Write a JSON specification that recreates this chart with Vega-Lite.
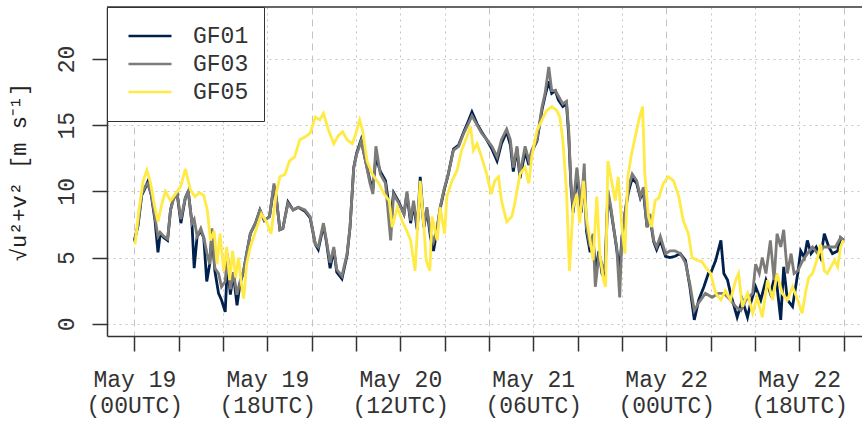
{
  "$schema": "https://vega.github.io/schema/vega-lite/v6.json",
  "width": 755,
  "height": 329,
  "autosize": {"type": "none"},
  "padding": {"left": 107, "top": 7, "right": 0, "bottom": 85},
  "background": "white",
  "config": {
    "view": {"stroke": null},
    "font": "Liberation Mono"
  },
  "datasets": {
    "series": [
      {"s":"GF01","t":0,"v":6.3},{"s":"GF01","t":0.5,"v":7.4},{"s":"GF01","t":1.0,"v":9.7},{"s":"GF01","t":1.5,"v":10.3},{"s":"GF01","t":1.8,"v":10.7},{"s":"GF01","t":2.3,"v":9.7},{"s":"GF01","t":2.8,"v":7.8},{"s":"GF01","t":3.2,"v":5.4},{"s":"GF01","t":3.5,"v":6.8},{"s":"GF01","t":4.0,"v":6.5},{"s":"GF01","t":4.5,"v":6.3},{"s":"GF01","t":4.9,"v":8.6},{"s":"GF01","t":5.3,"v":9.5},{"s":"GF01","t":5.8,"v":9.8},{"s":"GF01","t":6.3,"v":7.6},{"s":"GF01","t":6.9,"v":9.5},{"s":"GF01","t":7.3,"v":10.0},{"s":"GF01","t":7.8,"v":7.6},{"s":"GF01","t":8.1,"v":4.2},{"s":"GF01","t":8.5,"v":6.6},{"s":"GF01","t":9.0,"v":7.0},{"s":"GF01","t":9.4,"v":6.5},{"s":"GF01","t":9.8,"v":3.2},{"s":"GF01","t":10.2,"v":4.5},{"s":"GF01","t":10.5,"v":6.8},{"s":"GF01","t":10.9,"v":4.0},{"s":"GF01","t":11.4,"v":2.3},{"s":"GF01","t":11.8,"v":1.8},{"s":"GF01","t":12.3,"v":0.9},{"s":"GF01","t":12.6,"v":4.5},{"s":"GF01","t":13.0,"v":2.2},{"s":"GF01","t":13.4,"v":3.8},{"s":"GF01","t":13.9,"v":1.4},{"s":"GF01","t":14.3,"v":3.0},{"s":"GF01","t":14.8,"v":4.0},{"s":"GF01","t":15.2,"v":5.3},{"s":"GF01","t":15.7,"v":6.8},{"s":"GF01","t":16.4,"v":7.6},{"s":"GF01","t":17.0,"v":8.6},{"s":"GF01","t":17.6,"v":7.8},{"s":"GF01","t":18.3,"v":8.1},{"s":"GF01","t":18.9,"v":10.4},{"s":"GF01","t":19.2,"v":9.6},{"s":"GF01","t":19.7,"v":7.1},{"s":"GF01","t":20.1,"v":7.2},{"s":"GF01","t":20.8,"v":9.2},{"s":"GF01","t":21.5,"v":8.6},{"s":"GF01","t":22.2,"v":8.8},{"s":"GF01","t":23.1,"v":8.5},{"s":"GF01","t":23.8,"v":8.0},{"s":"GF01","t":24.5,"v":6.0},{"s":"GF01","t":24.9,"v":5.6},{"s":"GF01","t":25.6,"v":7.4},{"s":"GF01","t":26.0,"v":6.2},{"s":"GF01","t":26.5,"v":4.2},{"s":"GF01","t":27.0,"v":5.6},{"s":"GF01","t":27.4,"v":3.9},{"s":"GF01","t":28.1,"v":3.4},{"s":"GF01","t":28.8,"v":5.2},{"s":"GF01","t":29.2,"v":7.3},{"s":"GF01","t":29.7,"v":11.8},{"s":"GF01","t":30.1,"v":12.9},{"s":"GF01","t":30.7,"v":13.9},{"s":"GF01","t":31.3,"v":12.3},{"s":"GF01","t":31.9,"v":10.8},{"s":"GF01","t":32.3,"v":10.2},{"s":"GF01","t":32.7,"v":12.6},{"s":"GF01","t":33.3,"v":11.5},{"s":"GF01","t":34.0,"v":10.8},{"s":"GF01","t":34.7,"v":8.0},{"s":"GF01","t":35.1,"v":9.9},{"s":"GF01","t":35.8,"v":9.2},{"s":"GF01","t":36.5,"v":8.3},{"s":"GF01","t":36.9,"v":9.8},{"s":"GF01","t":37.4,"v":7.6},{"s":"GF01","t":37.8,"v":9.0},{"s":"GF01","t":38.3,"v":7.1},{"s":"GF01","t":38.7,"v":11.1},{"s":"GF01","t":39.2,"v":7.3},{"s":"GF01","t":39.6,"v":8.6},{"s":"GF01","t":40.1,"v":6.5},{"s":"GF01","t":40.5,"v":5.5},{"s":"GF01","t":41.0,"v":7.2},{"s":"GF01","t":41.4,"v":8.7},{"s":"GF01","t":41.9,"v":10.0},{"s":"GF01","t":42.5,"v":11.3},{"s":"GF01","t":43.2,"v":13.2},{"s":"GF01","t":43.9,"v":13.5},{"s":"GF01","t":44.6,"v":14.5},{"s":"GF01","t":45.2,"v":15.3},{"s":"GF01","t":45.7,"v":16.0},{"s":"GF01","t":46.4,"v":15.1},{"s":"GF01","t":47.0,"v":14.5},{"s":"GF01","t":47.7,"v":13.9},{"s":"GF01","t":48.4,"v":13.2},{"s":"GF01","t":49.1,"v":12.3},{"s":"GF01","t":49.7,"v":13.6},{"s":"GF01","t":50.4,"v":14.5},{"s":"GF01","t":50.9,"v":13.5},{"s":"GF01","t":51.3,"v":11.5},{"s":"GF01","t":51.8,"v":13.2},{"s":"GF01","t":52.2,"v":11.0},{"s":"GF01","t":52.9,"v":13.0},{"s":"GF01","t":53.4,"v":12.0},{"s":"GF01","t":53.8,"v":13.0},{"s":"GF01","t":54.5,"v":13.8},{"s":"GF01","t":55.2,"v":16.2},{"s":"GF01","t":55.6,"v":17.2},{"s":"GF01","t":56.1,"v":18.3},{"s":"GF01","t":56.5,"v":17.4},{"s":"GF01","t":57.0,"v":17.6},{"s":"GF01","t":57.4,"v":16.9},{"s":"GF01","t":58.0,"v":16.4},{"s":"GF01","t":58.5,"v":16.6},{"s":"GF01","t":58.8,"v":14.2},{"s":"GF01","t":59.1,"v":10.4},{"s":"GF01","t":59.4,"v":8.4},{"s":"GF01","t":59.9,"v":11.2},{"s":"GF01","t":60.2,"v":10.0},{"s":"GF01","t":60.5,"v":8.4},{"s":"GF01","t":60.9,"v":11.4},{"s":"GF01","t":61.2,"v":7.0},{"s":"GF01","t":61.7,"v":5.4},{"s":"GF01","t":62.1,"v":6.5},{"s":"GF01","t":62.4,"v":4.0},{"s":"GF01","t":62.9,"v":5.5},{"s":"GF01","t":63.3,"v":3.8},{"s":"GF01","t":63.7,"v":3.4},{"s":"GF01","t":64.1,"v":9.8},{"s":"GF01","t":64.5,"v":8.6},{"s":"GF01","t":65.0,"v":6.8},{"s":"GF01","t":65.3,"v":5.6},{"s":"GF01","t":65.7,"v":4.0},{"s":"GF01","t":66.0,"v":6.5},{"s":"GF01","t":66.4,"v":8.3},{"s":"GF01","t":66.9,"v":10.0},{"s":"GF01","t":67.4,"v":11.0},{"s":"GF01","t":68.0,"v":10.6},{"s":"GF01","t":68.5,"v":9.5},{"s":"GF01","t":68.9,"v":10.0},{"s":"GF01","t":69.4,"v":7.3},{"s":"GF01","t":69.8,"v":8.0},{"s":"GF01","t":70.3,"v":6.2},{"s":"GF01","t":70.7,"v":5.6},{"s":"GF01","t":71.2,"v":6.3},{"s":"GF01","t":71.9,"v":5.1},{"s":"GF01","t":72.5,"v":5.0},{"s":"GF01","t":73.2,"v":5.1},{"s":"GF01","t":73.9,"v":5.3},{"s":"GF01","t":74.6,"v":4.8},{"s":"GF01","t":75.2,"v":2.8},{"s":"GF01","t":75.8,"v":0.3},{"s":"GF01","t":76.4,"v":1.8},{"s":"GF01","t":77.1,"v":2.8},{"s":"GF01","t":77.7,"v":3.8},{"s":"GF01","t":78.0,"v":3.8},{"s":"GF01","t":78.7,"v":4.8},{"s":"GF01","t":79.4,"v":6.3},{"s":"GF01","t":79.8,"v":3.8},{"s":"GF01","t":80.3,"v":3.3},{"s":"GF01","t":80.7,"v":2.3},{"s":"GF01","t":81.2,"v":1.3},{"s":"GF01","t":81.6,"v":0.5},{"s":"GF01","t":82.3,"v":1.8},{"s":"GF01","t":83.0,"v":0.5},{"s":"GF01","t":83.4,"v":1.5},{"s":"GF01","t":84.1,"v":2.8},{"s":"GF01","t":84.8,"v":1.8},{"s":"GF01","t":85.5,"v":3.3},{"s":"GF01","t":86.1,"v":2.3},{"s":"GF01","t":86.8,"v":3.8},{"s":"GF01","t":87.5,"v":0.3},{"s":"GF01","t":87.9,"v":4.3},{"s":"GF01","t":88.4,"v":1.8},{"s":"GF01","t":89.1,"v":1.3},{"s":"GF01","t":89.8,"v":3.8},{"s":"GF01","t":90.2,"v":5.5},{"s":"GF01","t":90.7,"v":5.0},{"s":"GF01","t":91.1,"v":6.3},{"s":"GF01","t":91.6,"v":5.3},{"s":"GF01","t":92.3,"v":5.8},{"s":"GF01","t":92.9,"v":5.0},{"s":"GF01","t":93.4,"v":6.8},{"s":"GF01","t":94.0,"v":5.8},{"s":"GF01","t":94.5,"v":5.3},{"s":"GF01","t":95.2,"v":5.5},{"s":"GF01","t":95.6,"v":6.5},{"s":"GF01","t":96.0,"v":6.3},

      {"s":"GF03","t":0,"v":6.2},{"s":"GF03","t":0.5,"v":7.5},{"s":"GF03","t":1.0,"v":9.8},{"s":"GF03","t":1.5,"v":10.4},{"s":"GF03","t":1.8,"v":10.6},{"s":"GF03","t":2.3,"v":9.8},{"s":"GF03","t":2.8,"v":8.0},{"s":"GF03","t":3.2,"v":6.6},{"s":"GF03","t":3.5,"v":6.9},{"s":"GF03","t":4.0,"v":6.6},{"s":"GF03","t":4.5,"v":6.4},{"s":"GF03","t":4.9,"v":8.6},{"s":"GF03","t":5.3,"v":9.4},{"s":"GF03","t":5.8,"v":9.8},{"s":"GF03","t":6.3,"v":7.9},{"s":"GF03","t":6.9,"v":9.5},{"s":"GF03","t":7.3,"v":10.0},{"s":"GF03","t":7.8,"v":7.6},{"s":"GF03","t":8.1,"v":7.9},{"s":"GF03","t":8.5,"v":6.6},{"s":"GF03","t":9.0,"v":7.2},{"s":"GF03","t":9.4,"v":6.5},{"s":"GF03","t":9.8,"v":5.4},{"s":"GF03","t":10.2,"v":4.5},{"s":"GF03","t":10.5,"v":7.2},{"s":"GF03","t":10.9,"v":4.2},{"s":"GF03","t":11.4,"v":3.8},{"s":"GF03","t":11.8,"v":2.8},{"s":"GF03","t":12.3,"v":3.2},{"s":"GF03","t":12.6,"v":5.3},{"s":"GF03","t":13.0,"v":2.6},{"s":"GF03","t":13.4,"v":3.9},{"s":"GF03","t":13.9,"v":2.2},{"s":"GF03","t":14.3,"v":3.2},{"s":"GF03","t":14.8,"v":4.0},{"s":"GF03","t":15.2,"v":5.3},{"s":"GF03","t":15.7,"v":6.8},{"s":"GF03","t":16.4,"v":7.6},{"s":"GF03","t":17.0,"v":8.6},{"s":"GF03","t":17.6,"v":7.8},{"s":"GF03","t":18.3,"v":8.1},{"s":"GF03","t":18.9,"v":10.6},{"s":"GF03","t":19.2,"v":9.6},{"s":"GF03","t":19.7,"v":7.1},{"s":"GF03","t":20.1,"v":7.2},{"s":"GF03","t":20.8,"v":9.1},{"s":"GF03","t":21.5,"v":8.6},{"s":"GF03","t":22.2,"v":8.8},{"s":"GF03","t":23.1,"v":8.6},{"s":"GF03","t":23.8,"v":8.1},{"s":"GF03","t":24.5,"v":6.0},{"s":"GF03","t":24.9,"v":5.8},{"s":"GF03","t":25.6,"v":7.6},{"s":"GF03","t":26.0,"v":6.3},{"s":"GF03","t":26.5,"v":4.6},{"s":"GF03","t":27.0,"v":5.8},{"s":"GF03","t":27.4,"v":4.1},{"s":"GF03","t":28.1,"v":3.6},{"s":"GF03","t":28.8,"v":5.3},{"s":"GF03","t":29.2,"v":7.3},{"s":"GF03","t":29.7,"v":11.8},{"s":"GF03","t":30.1,"v":12.8},{"s":"GF03","t":30.7,"v":13.8},{"s":"GF03","t":31.3,"v":12.3},{"s":"GF03","t":31.9,"v":10.6},{"s":"GF03","t":32.3,"v":9.8},{"s":"GF03","t":32.7,"v":13.4},{"s":"GF03","t":33.3,"v":11.3},{"s":"GF03","t":34.0,"v":10.6},{"s":"GF03","t":34.7,"v":6.3},{"s":"GF03","t":35.1,"v":9.8},{"s":"GF03","t":35.8,"v":9.1},{"s":"GF03","t":36.5,"v":8.3},{"s":"GF03","t":36.9,"v":10.0},{"s":"GF03","t":37.4,"v":7.8},{"s":"GF03","t":37.8,"v":9.3},{"s":"GF03","t":38.3,"v":7.3},{"s":"GF03","t":38.7,"v":10.2},{"s":"GF03","t":39.2,"v":7.3},{"s":"GF03","t":39.6,"v":8.8},{"s":"GF03","t":40.1,"v":6.8},{"s":"GF03","t":40.5,"v":6.2},{"s":"GF03","t":41.0,"v":7.3},{"s":"GF03","t":41.4,"v":8.8},{"s":"GF03","t":41.9,"v":10.1},{"s":"GF03","t":42.5,"v":11.3},{"s":"GF03","t":43.2,"v":13.1},{"s":"GF03","t":43.9,"v":13.4},{"s":"GF03","t":44.6,"v":14.4},{"s":"GF03","t":45.2,"v":15.1},{"s":"GF03","t":45.7,"v":15.7},{"s":"GF03","t":46.4,"v":15.0},{"s":"GF03","t":47.0,"v":14.4},{"s":"GF03","t":47.7,"v":13.9},{"s":"GF03","t":48.4,"v":13.4},{"s":"GF03","t":49.1,"v":12.6},{"s":"GF03","t":49.7,"v":13.9},{"s":"GF03","t":50.4,"v":14.7},{"s":"GF03","t":50.9,"v":13.9},{"s":"GF03","t":51.3,"v":11.8},{"s":"GF03","t":51.8,"v":13.4},{"s":"GF03","t":52.2,"v":11.3},{"s":"GF03","t":52.9,"v":13.4},{"s":"GF03","t":53.4,"v":12.3},{"s":"GF03","t":53.8,"v":13.1},{"s":"GF03","t":54.5,"v":13.9},{"s":"GF03","t":55.2,"v":16.4},{"s":"GF03","t":55.6,"v":17.4},{"s":"GF03","t":56.1,"v":19.4},{"s":"GF03","t":56.5,"v":17.6},{"s":"GF03","t":57.0,"v":17.6},{"s":"GF03","t":57.4,"v":17.2},{"s":"GF03","t":58.0,"v":16.6},{"s":"GF03","t":58.5,"v":16.8},{"s":"GF03","t":58.8,"v":14.6},{"s":"GF03","t":59.1,"v":10.6},{"s":"GF03","t":59.4,"v":8.8},{"s":"GF03","t":59.9,"v":11.8},{"s":"GF03","t":60.2,"v":10.3},{"s":"GF03","t":60.5,"v":8.8},{"s":"GF03","t":60.9,"v":12.1},{"s":"GF03","t":61.2,"v":7.3},{"s":"GF03","t":61.7,"v":5.8},{"s":"GF03","t":62.1,"v":6.8},{"s":"GF03","t":62.4,"v":2.8},{"s":"GF03","t":62.9,"v":5.3},{"s":"GF03","t":63.3,"v":4.5},{"s":"GF03","t":63.7,"v":4.0},{"s":"GF03","t":64.1,"v":10.1},{"s":"GF03","t":64.5,"v":8.8},{"s":"GF03","t":65.0,"v":6.8},{"s":"GF03","t":65.3,"v":5.8},{"s":"GF03","t":65.7,"v":2.0},{"s":"GF03","t":66.0,"v":6.5},{"s":"GF03","t":66.4,"v":8.3},{"s":"GF03","t":66.9,"v":10.3},{"s":"GF03","t":67.4,"v":11.3},{"s":"GF03","t":68.0,"v":10.8},{"s":"GF03","t":68.5,"v":9.6},{"s":"GF03","t":68.9,"v":10.3},{"s":"GF03","t":69.4,"v":7.3},{"s":"GF03","t":69.8,"v":8.3},{"s":"GF03","t":70.3,"v":6.3},{"s":"GF03","t":70.7,"v":5.8},{"s":"GF03","t":71.2,"v":6.6},{"s":"GF03","t":71.9,"v":5.3},{"s":"GF03","t":72.5,"v":5.5},{"s":"GF03","t":73.2,"v":5.5},{"s":"GF03","t":73.9,"v":5.3},{"s":"GF03","t":74.6,"v":4.6},{"s":"GF03","t":75.2,"v":3.0},{"s":"GF03","t":75.8,"v":1.0},{"s":"GF03","t":76.4,"v":1.6},{"s":"GF03","t":77.3,"v":2.3},{"s":"GF03","t":78.2,"v":2.0},{"s":"GF03","t":79.1,"v":2.3},{"s":"GF03","t":79.8,"v":2.3},{"s":"GF03","t":80.7,"v":1.8},{"s":"GF03","t":81.4,"v":1.3},{"s":"GF03","t":82.1,"v":1.0},{"s":"GF03","t":82.8,"v":1.8},{"s":"GF03","t":83.7,"v":2.3},{"s":"GF03","t":84.1,"v":4.5},{"s":"GF03","t":84.6,"v":3.8},{"s":"GF03","t":85.0,"v":5.0},{"s":"GF03","t":85.5,"v":3.8},{"s":"GF03","t":86.1,"v":6.3},{"s":"GF03","t":86.6,"v":3.3},{"s":"GF03","t":87.0,"v":6.8},{"s":"GF03","t":87.5,"v":5.8},{"s":"GF03","t":87.9,"v":7.1},{"s":"GF03","t":88.4,"v":3.8},{"s":"GF03","t":88.9,"v":5.3},{"s":"GF03","t":89.3,"v":3.8},{"s":"GF03","t":89.8,"v":4.0},{"s":"GF03","t":90.5,"v":4.8},{"s":"GF03","t":91.1,"v":5.3},{"s":"GF03","t":91.8,"v":5.8},{"s":"GF03","t":92.5,"v":5.3},{"s":"GF03","t":93.1,"v":5.8},{"s":"GF03","t":94.0,"v":5.8},{"s":"GF03","t":94.9,"v":5.8},{"s":"GF03","t":95.6,"v":6.5},{"s":"GF03","t":96.0,"v":6.3},

      {"s":"GF05","t":0.1,"v":6.0},{"s":"GF05","t":0.6,"v":8.5},{"s":"GF05","t":1.2,"v":10.8},{"s":"GF05","t":1.7,"v":11.6},{"s":"GF05","t":2.2,"v":10.6},{"s":"GF05","t":2.7,"v":9.0},{"s":"GF05","t":3.2,"v":7.7},{"s":"GF05","t":3.7,"v":9.0},{"s":"GF05","t":4.2,"v":10.0},{"s":"GF05","t":4.9,"v":9.3},{"s":"GF05","t":5.3,"v":9.6},{"s":"GF05","t":5.8,"v":10.0},{"s":"GF05","t":6.3,"v":10.4},{"s":"GF05","t":6.9,"v":11.7},{"s":"GF05","t":7.6,"v":10.1},{"s":"GF05","t":8.2,"v":9.6},{"s":"GF05","t":8.8,"v":9.9},{"s":"GF05","t":9.4,"v":9.7},{"s":"GF05","t":9.9,"v":8.5},{"s":"GF05","t":10.3,"v":6.3},{"s":"GF05","t":10.8,"v":7.0},{"s":"GF05","t":11.2,"v":4.5},{"s":"GF05","t":11.6,"v":6.8},{"s":"GF05","t":12.1,"v":4.0},{"s":"GF05","t":12.5,"v":5.8},{"s":"GF05","t":12.9,"v":3.3},{"s":"GF05","t":13.3,"v":5.5},{"s":"GF05","t":13.7,"v":3.5},{"s":"GF05","t":14.1,"v":5.0},{"s":"GF05","t":14.5,"v":3.0},{"s":"GF05","t":14.8,"v":1.9},{"s":"GF05","t":15.2,"v":4.5},{"s":"GF05","t":15.7,"v":5.8},{"s":"GF05","t":16.3,"v":6.8},{"s":"GF05","t":17.2,"v":8.3},{"s":"GF05","t":17.9,"v":7.7},{"s":"GF05","t":18.5,"v":6.8},{"s":"GF05","t":19.2,"v":9.8},{"s":"GF05","t":19.7,"v":11.1},{"s":"GF05","t":20.4,"v":11.3},{"s":"GF05","t":21.0,"v":12.3},{"s":"GF05","t":21.7,"v":12.6},{"s":"GF05","t":22.4,"v":13.9},{"s":"GF05","t":23.1,"v":14.1},{"s":"GF05","t":23.8,"v":14.4},{"s":"GF05","t":24.5,"v":15.6},{"s":"GF05","t":25.1,"v":15.4},{"s":"GF05","t":25.6,"v":15.9},{"s":"GF05","t":26.3,"v":14.6},{"s":"GF05","t":27.0,"v":13.6},{"s":"GF05","t":27.6,"v":14.2},{"s":"GF05","t":28.2,"v":14.5},{"s":"GF05","t":28.8,"v":13.9},{"s":"GF05","t":29.5,"v":13.6},{"s":"GF05","t":29.9,"v":14.2},{"s":"GF05","t":30.5,"v":15.4},{"s":"GF05","t":30.9,"v":14.6},{"s":"GF05","t":31.5,"v":12.3},{"s":"GF05","t":32.2,"v":11.3},{"s":"GF05","t":33.1,"v":10.6},{"s":"GF05","t":33.8,"v":9.8},{"s":"GF05","t":34.5,"v":9.3},{"s":"GF05","t":34.9,"v":7.3},{"s":"GF05","t":35.6,"v":8.8},{"s":"GF05","t":36.3,"v":7.7},{"s":"GF05","t":36.9,"v":7.0},{"s":"GF05","t":37.4,"v":6.3},{"s":"GF05","t":38.0,"v":4.0},{"s":"GF05","t":38.7,"v":10.8},{"s":"GF05","t":39.2,"v":7.3},{"s":"GF05","t":39.5,"v":4.8},{"s":"GF05","t":40.0,"v":4.0},{"s":"GF05","t":40.3,"v":8.1},{"s":"GF05","t":41.0,"v":6.3},{"s":"GF05","t":41.4,"v":8.8},{"s":"GF05","t":42.0,"v":6.8},{"s":"GF05","t":42.3,"v":9.6},{"s":"GF05","t":43.0,"v":10.8},{"s":"GF05","t":43.7,"v":11.6},{"s":"GF05","t":44.3,"v":13.1},{"s":"GF05","t":45.0,"v":14.1},{"s":"GF05","t":45.5,"v":14.9},{"s":"GF05","t":45.9,"v":13.1},{"s":"GF05","t":46.4,"v":13.6},{"s":"GF05","t":47.0,"v":12.6},{"s":"GF05","t":47.7,"v":11.3},{"s":"GF05","t":48.3,"v":9.8},{"s":"GF05","t":48.8,"v":10.8},{"s":"GF05","t":49.3,"v":11.1},{"s":"GF05","t":49.7,"v":9.3},{"s":"GF05","t":50.4,"v":7.7},{"s":"GF05","t":51.1,"v":8.1},{"s":"GF05","t":51.5,"v":9.1},{"s":"GF05","t":52.2,"v":11.3},{"s":"GF05","t":52.9,"v":11.8},{"s":"GF05","t":53.4,"v":10.6},{"s":"GF05","t":53.8,"v":12.6},{"s":"GF05","t":54.5,"v":14.6},{"s":"GF05","t":55.2,"v":15.4},{"s":"GF05","t":55.8,"v":16.1},{"s":"GF05","t":56.5,"v":16.4},{"s":"GF05","t":57.2,"v":16.1},{"s":"GF05","t":57.6,"v":15.6},{"s":"GF05","t":58.0,"v":13.9},{"s":"GF05","t":58.5,"v":10.0},{"s":"GF05","t":58.9,"v":4.0},{"s":"GF05","t":59.4,"v":8.8},{"s":"GF05","t":59.9,"v":9.8},{"s":"GF05","t":60.3,"v":7.6},{"s":"GF05","t":60.8,"v":10.8},{"s":"GF05","t":61.2,"v":8.0},{"s":"GF05","t":61.7,"v":6.3},{"s":"GF05","t":62.1,"v":4.8},{"s":"GF05","t":62.6,"v":9.6},{"s":"GF05","t":63.0,"v":5.3},{"s":"GF05","t":63.5,"v":3.3},{"s":"GF05","t":63.8,"v":2.8},{"s":"GF05","t":64.1,"v":12.3},{"s":"GF05","t":64.6,"v":10.8},{"s":"GF05","t":65.1,"v":9.3},{"s":"GF05","t":65.5,"v":11.1},{"s":"GF05","t":66.0,"v":7.3},{"s":"GF05","t":66.4,"v":5.3},{"s":"GF05","t":66.8,"v":11.1},{"s":"GF05","t":67.3,"v":12.8},{"s":"GF05","t":67.8,"v":14.1},{"s":"GF05","t":68.3,"v":15.4},{"s":"GF05","t":68.8,"v":16.4},{"s":"GF05","t":69.1,"v":11.3},{"s":"GF05","t":69.6,"v":8.1},{"s":"GF05","t":70.0,"v":7.3},{"s":"GF05","t":70.5,"v":9.3},{"s":"GF05","t":71.0,"v":9.5},{"s":"GF05","t":71.6,"v":10.6},{"s":"GF05","t":72.3,"v":11.1},{"s":"GF05","t":73.0,"v":10.8},{"s":"GF05","t":73.7,"v":9.6},{"s":"GF05","t":74.3,"v":7.8},{"s":"GF05","t":75.0,"v":6.8},{"s":"GF05","t":75.5,"v":5.0},{"s":"GF05","t":76.2,"v":4.8},{"s":"GF05","t":76.8,"v":4.7},{"s":"GF05","t":77.3,"v":4.3},{"s":"GF05","t":78.0,"v":3.8},{"s":"GF05","t":78.7,"v":2.3},{"s":"GF05","t":79.4,"v":1.8},{"s":"GF05","t":80.0,"v":2.5},{"s":"GF05","t":80.7,"v":1.8},{"s":"GF05","t":81.4,"v":3.3},{"s":"GF05","t":81.8,"v":3.8},{"s":"GF05","t":82.3,"v":1.3},{"s":"GF05","t":83.0,"v":2.3},{"s":"GF05","t":83.7,"v":0.8},{"s":"GF05","t":84.3,"v":2.0},{"s":"GF05","t":85.0,"v":0.5},{"s":"GF05","t":85.7,"v":3.3},{"s":"GF05","t":86.4,"v":1.8},{"s":"GF05","t":87.0,"v":3.8},{"s":"GF05","t":87.7,"v":2.3},{"s":"GF05","t":88.4,"v":1.8},{"s":"GF05","t":89.1,"v":2.8},{"s":"GF05","t":89.8,"v":1.8},{"s":"GF05","t":90.4,"v":0.8},{"s":"GF05","t":90.9,"v":2.5},{"s":"GF05","t":91.3,"v":3.5},{"s":"GF05","t":91.8,"v":3.8},{"s":"GF05","t":92.5,"v":5.0},{"s":"GF05","t":92.9,"v":6.0},{"s":"GF05","t":93.4,"v":4.0},{"s":"GF05","t":93.8,"v":3.8},{"s":"GF05","t":94.3,"v":4.3},{"s":"GF05","t":94.8,"v":4.8},{"s":"GF05","t":95.2,"v":4.3},{"s":"GF05","t":95.6,"v":5.8},{"s":"GF05","t":96.0,"v":6.3}
    ]
  },
  "layer": [
    {
      "data": {"name": "series"},
      "mark": {"type": "line", "strokeWidth": 2.8, "interpolate": "linear"},
      "encoding": {
        "x": {
          "field": "t", "type": "quantitative",
          "scale": {"domain": [-3.7, 98.5], "nice": false, "zero": false},
          "axis": {
            "title": null,
            "values": [0,6,12,18,24,30,36,42,48,54,60,66,72,78,84,90,96],
            "grid": true,
            "gridColor": "#c4c4c4",
            "gridWidth": 1,
            "gridDash": {"condition": {"test": "datum.value % 24 === 0", "value": [7, 5]}, "value": [2, 4]},
            "domainColor": "#333333",
            "domainWidth": 1.5,
            "tickColor": "#333333",
            "tickWidth": 1.5,
            "tickSize": 15,
            "labelFont": "Liberation Mono",
            "labelFontSize": 23,
            "labelColor": "#333333",
            "labelPadding": 17,
            "labelLineHeight": 26,
            "labelOverlap": false,
            "labelFlush": false,
            "labelBound": false,
            "labelExpr": "datum.value % 18 === 0 ? ['May ' + (19 + floor(datum.value / 24)), '(' + ((datum.value % 24) < 10 ? '0' : '') + (datum.value % 24) + 'UTC)'] : ''"
          }
        },
        "y": {
          "field": "v", "type": "quantitative",
          "scale": {"domain": [-0.92, 23.92], "nice": false, "zero": false},
          "axis": {
            "title": "√u²+v² [m s⁻¹]",
            "titleFont": "Liberation Mono",
            "titleFontSize": 22,
            "titleFontWeight": "normal",
            "titleColor": "#222222",
            "titlePadding": 25,
            "values": [0,5,10,15,20],
            "grid": true,
            "gridColor": "#c4c4c4",
            "gridDash": [2, 4],
            "domainColor": "#333333",
            "domainWidth": 1.5,
            "tickColor": "#333333",
            "tickWidth": 1.5,
            "tickSize": 15,
            "labelFont": "Liberation Mono",
            "labelFontSize": 23,
            "labelColor": "#333333",
            "labelAngle": -90,
            "labelAlign": "center",
            "labelBaseline": "bottom",
            "labelPadding": 14
          }
        },
        "color": {
          "field": "s", "type": "nominal",
          "scale": {"domain": ["GF01", "GF03", "GF05"], "range": ["#00204D", "#7C7B78", "#FFEA46"]},
          "legend": {
            "title": null,
            "orient": "none",
            "legendX": 0,
            "legendY": 0,
            "fillColor": "white",
            "strokeColor": "#333333",
            "padding": 15,
            "symbolType": "stroke",
            "symbolSize": 1849,
            "symbolStrokeWidth": 2.5,
            "symbolOffset": 5,
            "clipHeight": 28,
            "labelFont": "Liberation Mono",
            "labelFontSize": 23,
            "labelColor": "#333333",
            "labelOffset": 20,
            "rowPadding": 0
          }
        }
      }
    },
    {
      "data": {"values": [{"top": 23.92}]},
      "mark": {"type": "rule", "color": "#333333", "strokeWidth": 1.5},
      "encoding": {"y": {"field": "top", "type": "quantitative"}}
    }
  ]
}
